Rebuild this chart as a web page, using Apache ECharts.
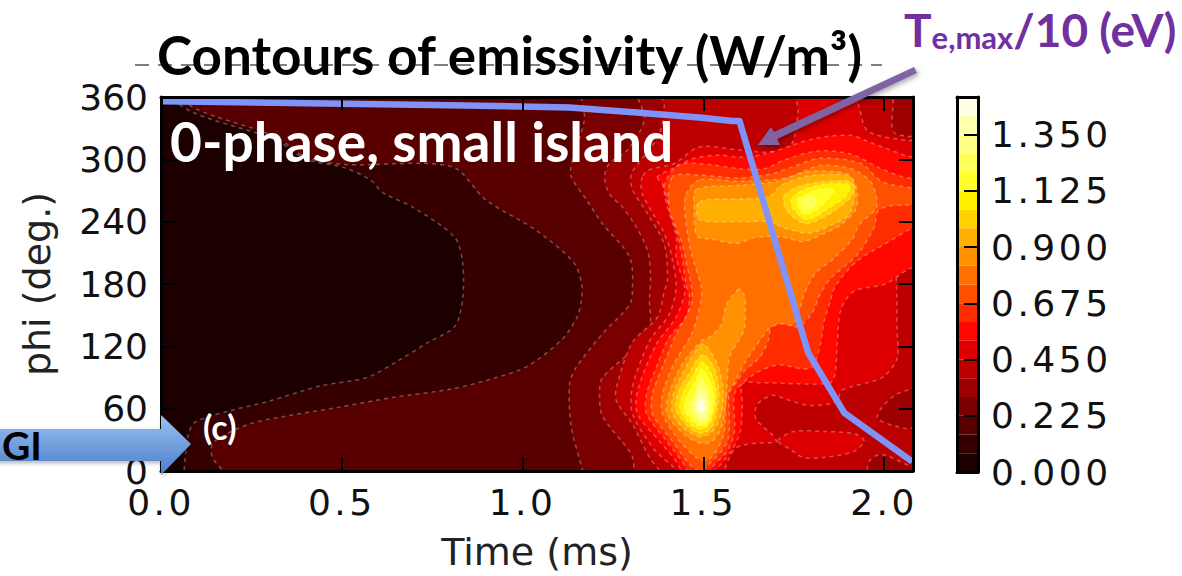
<!DOCTYPE html>
<html><head><meta charset="utf-8">
<style>html,body{margin:0;padding:0;background:#fff}#c{width:1182px;height:576px}
text[style*="sans-serif"]{letter-spacing:3.5px}</style>
<script src="https://cdn.jsdelivr.net/npm/echarts@6/dist/echarts.min.js"></script>
</head><body><div id="c"></div>
<script>
const bandColors=['#1c0000','#370000','#580000','#7a0000','#9c0000','#bc0000','#de0000','#ff0800','#ff2c00','#ff4f00','#ff7000','#ff9000','#ffb000','#ffd200','#fff200','#ffff2a','#ffff5c','#ffff85','#ffffb0','#ffffe8'];
const bandStep=0.075;
const xTicks={min:0,max:2.08,interval:0.5};
const yTicks={min:0,max:360,interval:60};
const cbTicks={min:0,max:1.5,interval:0.225};
const teMax=[[0,356],[0.8,352],[1.13,350],[1.315,345],[1.497,340],[1.58,337],[1.6,337],[1.79,114],[1.89,56],[2.078,9]];
const c0=[[-0.05,-20],[2.13,-20],[2.13,380],[-0.05,380]];
const c1=[[0.019,367],[2.124,367],[2.124,-17],[0.064,-17],[0.064,0],[0.075,34],[0.094,47],[0.191,58],[0.296,67],[0.442,82],[0.569,90],[0.655,106],[0.74,124],[0.812,139],[0.834,165],[0.834,201],[0.812,225],[0.696,254],[0.613,268],[0.58,280],[0.506,292],[0.401,300],[0.315,319],[0.083,346]];
const c2=[[0.047,367],[2.124,367],[2.124,-17],[0.169,-17],[0.169,0],[0.141,14],[0.146,28],[0.243,45],[0.348,53],[0.486,61],[0.644,71],[0.804,79],[0.928,90],[1.014,101],[1.11,127],[1.152,149],[1.163,165],[1.163,181],[1.141,201],[1.036,232],[0.898,261],[0.804,293],[0.506,295],[0.401,302],[0.315,322],[0.094,349]];
const c3=[[1.171,367],[2.124,367],[2.124,-17],[1.171,-17],[1.166,0],[1.135,42],[1.13,84],[1.149,100],[1.221,132],[1.296,160],[1.304,175],[1.296,206],[1.221,238],[1.177,261],[1.135,283],[1.135,295],[1.171,338]];
const c4=[[1.323,367],[2.124,367],[2.124,-17],[1.312,-17],[1.309,0],[1.301,16],[1.221,53],[1.213,77],[1.221,90],[1.296,114],[1.351,138],[1.351,165],[1.354,189],[1.345,213],[1.309,238],[1.276,254],[1.24,267],[1.227,283],[1.24,296],[1.29,309],[1.337,338]];
const c5=[[1.384,367],[1.392,352],[1.378,324],[1.329,300],[1.301,286],[1.304,271],[1.345,248],[1.392,218],[1.401,184],[1.392,173],[1.373,148],[1.304,124],[1.26,81],[1.26,67],[1.304,45],[1.351,13],[1.378,0],[1.384,-17],[1.948,-17],[1.956,8],[1.992,16],[2.11,2],[2.11,41],[2.058,41],[1.983,50],[1.989,59],[2.03,73],[2.11,88],[2.11,322],[2.066,322],[2.025,327],[2.025,355],[2.025,367]];
const c6=[[1.331,283],[1.331,267],[1.387,232],[1.406,216],[1.414,204],[1.425,178],[1.406,151],[1.351,125],[1.304,81],[1.304,55],[1.359,23],[1.387,13],[1.425,0],[1.425,-17],[1.558,-17],[1.558,0],[1.586,21],[1.613,25],[1.655,27],[1.702,28],[1.693,34],[1.646,50],[1.646,62],[1.666,69],[1.693,73],[1.729,69],[1.796,63],[1.87,67],[1.881,77],[1.909,81],[1.975,87],[2.003,92],[2.036,108],[2.036,137],[2.036,166],[2.039,192],[2.11,208],[2.11,318],[2.066,318],[1.956,327],[1.931,350],[1.917,367],[1.762,367],[1.762,344],[1.74,312],[1.674,307],[1.599,309],[1.489,312],[1.42,296],[1.351,290]];
const c6b=[[1.707,29],[1.749,38],[1.834,38],[1.917,36],[1.945,29],[1.917,19],[1.834,13],[1.776,13],[1.74,21]];
const c7=[[1.373,283],[1.387,276],[1.398,257],[1.425,226],[1.425,206],[1.448,178],[1.448,170],[1.425,148],[1.37,122],[1.318,77],[1.318,55],[1.378,29],[1.434,4],[1.442,-17],[1.53,-17],[1.536,0],[1.577,19],[1.602,38],[1.608,64],[1.608,84],[1.655,85],[1.76,84],[1.851,85],[1.865,95],[1.87,121],[1.881,156],[1.917,173],[2.003,180],[2.072,195],[2.11,196],[2.11,300],[2.066,303],[1.956,317],[1.909,323],[1.807,320],[1.669,305],[1.599,302],[1.544,304],[1.475,301],[1.42,292]];
const c8=[[1.392,276],[1.398,264],[1.425,232],[1.442,204],[1.453,178],[1.461,170],[1.453,148],[1.406,129],[1.37,100],[1.343,74],[1.343,55],[1.398,29],[1.453,2],[1.461,-17],[1.517,-17],[1.522,2],[1.566,19],[1.586,38],[1.586,74],[1.613,86],[1.655,96],[1.707,102],[1.796,99],[1.823,121],[1.834,144],[1.851,163],[1.865,178],[1.925,202],[2.0,218],[2.077,234],[2.11,239],[2.11,283],[2.066,282],[1.992,291],[1.909,305],[1.815,308],[1.721,299],[1.669,291],[1.599,291],[1.517,295],[1.434,295]];
const c9=[[1.414,283],[1.406,252],[1.442,219],[1.453,200],[1.467,178],[1.467,160],[1.425,132],[1.387,100],[1.359,74],[1.359,55],[1.414,29],[1.461,7],[1.489,0],[1.517,7],[1.564,26],[1.572,42],[1.572,77],[1.591,85],[1.613,96],[1.655,109],[1.68,126],[1.688,139],[1.721,142],[1.762,139],[1.801,152],[1.823,170],[1.851,185],[1.925,208],[1.972,234],[1.983,250],[2.014,255],[2.066,256],[2.11,258],[2.11,273],[2.066,273],[1.992,279],[1.936,296],[1.823,301],[1.74,292],[1.688,286],[1.599,282],[1.483,285]];
const c10=[[1.489,280],[1.453,267],[1.448,252],[1.461,219],[1.475,200],[1.494,178],[1.494,165],[1.47,134],[1.414,100],[1.387,74],[1.387,55],[1.434,29],[1.481,13],[1.508,10],[1.536,19],[1.558,38],[1.564,71],[1.58,81],[1.613,103],[1.641,118],[1.682,137],[1.713,142],[1.749,141],[1.779,170],[1.807,189],[1.862,205],[1.912,223],[1.931,237],[1.978,253],[1.978,266],[1.959,280],[1.909,291],[1.823,294],[1.727,282],[1.599,279]];
const c11=[[1.481,271],[1.475,252],[1.483,226],[1.525,223],[1.591,219],[1.646,225],[1.721,225],[1.776,221],[1.843,230],[1.881,237],[1.923,253],[1.923,273],[1.898,286],[1.787,288],[1.707,279],[1.599,275]];
const c11b=[[1.599,175],[1.564,160],[1.55,141],[1.517,129],[1.494,125],[1.442,103],[1.405,74],[1.4,55],[1.445,36],[1.489,27],[1.525,29],[1.55,42],[1.562,67],[1.572,109],[1.591,122],[1.613,136],[1.616,156],[1.613,170]];
const c12=[[1.489,259],[1.613,262],[1.682,264],[1.715,275],[1.793,284],[1.903,284],[1.92,271],[1.903,247],[1.862,238],[1.793,229],[1.724,234],[1.682,240],[1.613,240],[1.489,242]];
const c12b=[[1.497,122],[1.44,92],[1.415,71],[1.415,55],[1.45,40],[1.494,33],[1.53,40],[1.553,61],[1.553,84],[1.535,106]];
const c13=[[1.724,265],[1.757,273],[1.82,278],[1.903,279],[1.917,274],[1.909,264],[1.865,251],[1.82,242],[1.782,238],[1.743,246],[1.724,255]];
const c13b=[[1.498,112],[1.464,96],[1.429,74],[1.425,58],[1.46,42],[1.494,36],[1.523,42],[1.539,60],[1.543,79],[1.529,100]];
const c14=[[1.746,263],[1.779,271],[1.834,276],[1.901,276],[1.906,271],[1.89,263],[1.843,252],[1.807,244],[1.782,242],[1.757,249],[1.743,256]];
const c14b=[[1.497,105],[1.468,90],[1.44,72],[1.436,59],[1.464,45],[1.494,40],[1.516,45],[1.533,61],[1.534,79],[1.519,96]];
const c15=[[1.76,261],[1.787,267],[1.82,271],[1.862,271],[1.843,261],[1.807,250],[1.782,247],[1.765,252]];
const c15b=[[1.497,98],[1.477,86],[1.452,69],[1.448,59],[1.474,47],[1.497,43],[1.516,48],[1.528,62],[1.525,80]];
const c16=[[1.773,259],[1.793,264],[1.809,263],[1.807,256],[1.787,252],[1.776,253]];
const c16b=[[1.494,88],[1.474,71],[1.462,61],[1.48,50],[1.502,46],[1.517,56],[1.517,72]];
const c17=[[1.494,80],[1.476,68],[1.471,60],[1.486,52],[1.504,50],[1.513,62],[1.509,73]];
const c18=[[1.494,74],[1.481,65],[1.486,56],[1.502,55],[1.507,65]];
const c19=[[1.494,69],[1.486,61],[1.494,57],[1.503,61]];
const contours=[[0,c0],[1,c1],[2,c2],[3,c3],[4,c4],[5,c5],[6,c6],[6,c6b],[7,c7],[8,c8],[9,c9],[10,c10],[11,c11],[11,c11b],[12,c12],[12,c12b],[13,c13],[13,c13b],[14,c14],[14,c14b],[15,c15],[15,c15b],[16,c16],[16,c16b],[17,c17],[18,c18],[19,c19]];

const chart=echarts.init(document.getElementById('c'),null,{renderer:'svg'});
const plainDj='DejaVu Sans', spaced='"DejaVu Sans", sans-serif';
const line={show:true,onZero:false,lineStyle:{color:'#000',width:3}};
const tick={show:true,inside:true,length:14,lineStyle:{color:'#000',width:2}};
const cbSeries=bandColors.map((col)=>({type:'bar',xAxisIndex:2,yAxisIndex:2,stack:'cb',barWidth:'100%',silent:true,data:[bandStep],itemStyle:{color:col},z:3}));
chart.setOption({
 animation:false,
 grid:[{left:161,right:269,top:97,bottom:104},{left:957,right:204,top:97,bottom:104}],
 xAxis:[
  {gridIndex:0,type:'value',position:'bottom',...xTicks,z:10,axisLine:line,axisTick:tick,splitLine:{show:false},
   name:'Time (ms)',nameLocation:'middle',nameGap:62,nameTextStyle:{fontFamily:plainDj,fontSize:38,color:'#222'},
   axisLabel:{showMaxLabel:false,margin:13,fontFamily:spaced,fontSize:36,color:'#111',formatter:v=>v.toFixed(1)}},
  {gridIndex:0,type:'value',position:'top',...xTicks,z:10,axisLine:line,axisTick:tick,axisLabel:{show:false},splitLine:{show:false}},
  {gridIndex:1,type:'category',position:'bottom',data:[''],z:10,axisLine:line,axisTick:{show:false},axisLabel:{show:false}},
  {gridIndex:1,type:'category',position:'top',data:[''],z:10,axisLine:line,axisTick:{show:false},axisLabel:{show:false}}
 ],
 yAxis:[
  {gridIndex:0,type:'value',position:'left',...yTicks,z:10,axisLine:line,axisTick:tick,splitLine:{show:false},
   name:'phi (deg.)',nameLocation:'middle',nameGap:105,nameTextStyle:{fontFamily:plainDj,fontSize:38,color:'#222'},
   axisLabel:{margin:13,fontFamily:plainDj,fontSize:36,color:'#111'}},
  {gridIndex:0,type:'value',position:'right',...yTicks,z:10,axisLine:line,axisTick:tick,axisLabel:{show:false},splitLine:{show:false}},
  {gridIndex:1,type:'value',position:'right',...cbTicks,z:10,axisLine:line,axisTick:tick,splitLine:{show:false},
   axisLabel:{showMaxLabel:false,margin:13,padding:[0,0,10,0],fontFamily:spaced,fontSize:36,color:'#111',formatter:v=>v.toFixed(3)}},
  {gridIndex:1,type:'value',position:'left',...cbTicks,z:10,axisLine:line,axisTick:{show:false},axisLabel:{show:false},splitLine:{show:false}}
 ],
 series:[
  {type:'custom',xAxisIndex:0,yAxisIndex:0,clip:true,silent:true,z:2,
   data:contours.map((c,i)=>[i,c[0]*bandStep]),
   renderItem:(p,api)=>{const c=contours[api.value(0)];
    return {type:'polygon',shape:{points:c[1].map(q=>api.coord(q)),smooth:0.3},
     style:{fill:bandColors[c[0]],stroke:c[0]===0?'none':'rgba(255,255,255,0.3)',lineWidth:1.5,lineDash:[4,4]}};}},
  {type:'line',xAxisIndex:0,yAxisIndex:0,data:teMax,showSymbol:false,symbol:'none',silent:true,z:5,clip:true,lineStyle:{color:'#8093f8',width:6.5,join:'round'}},
  ...cbSeries
 ],
 graphic:[
  {type:'line',z:90,shape:{x1:135,y1:65,x2:882,y2:65},style:{stroke:'#000',lineWidth:1,lineDash:[14,9]}},
  {type:'text',z:95,left:157,top:28,style:{text:'Contours of emissivity (W/m³)',font:'bold 53px Lato',fill:'#000'}},
  {type:'text',z:95,left:170,top:113,style:{text:'0-phase, small island',font:'bold 55px Lato',fill:'#fff'}},
  {type:'text',z:95,left:203,top:409,style:{text:'(c)',font:'bold 34px Lato',fill:'#fff'}},
  {type:'text',z:95,left:904,top:6,style:{rich:{a:{font:'bold 46px Lato',fill:'#7030a0',lineHeight:46,verticalAlign:'bottom'},b:{font:'bold 31px Lato',fill:'#7030a0',lineHeight:46,verticalAlign:'bottom',padding:[10,0,0,0]}},text:'{a|T}{b|e,max}{a|/10 (eV)}'}},
  {type:'polygon',z:92,shape:{points:[[758,145],[771,127],[774,132],[914,67],[917,73],[777,139],[780,145]]},style:{fill:'#8064a2',shadowBlur:5,shadowColor:'rgba(0,0,0,0.35)',shadowOffsetX:2,shadowOffsetY:2}},
  {type:'polygon',z:92,shape:{points:[[-5,429],[161,429],[161,415],[191,444],[161,475],[161,461],[-5,461]]},style:{fill:{type:'linear',x:0,y:0,x2:0,y2:1,colorStops:[{offset:0,color:'#9cc0f2'},{offset:1,color:'#4a7fc8'}]},shadowBlur:4,shadowColor:'rgba(0,0,0,0.3)',shadowOffsetX:1,shadowOffsetY:2}},
  {type:'text',z:95,left:2,top:425,style:{text:'GI',font:'bold 39px Lato',fill:'#000'}}
 ]
});
</script></body></html>
